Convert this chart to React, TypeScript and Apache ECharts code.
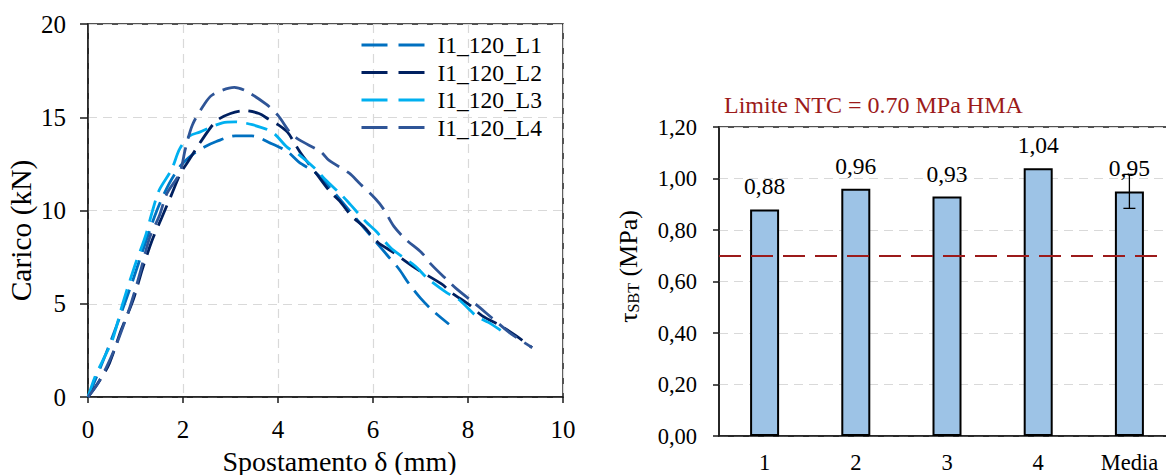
import React, { useEffect, useRef } from "react";
import * as echarts from "echarts";

// Load–displacement curves (displacement in mm, load in kN)
const disp1 = [0, 0.2, 0.45, 0.7, 0.95, 1.2, 1.45, 1.7, 1.95, 2.2, 2.45, 2.7, 3.1, 3.45, 3.85, 4.2, 4.44, 4.8, 5.1, 5.5, 5.8, 6.1, 6.3, 6.55, 6.75, 7.0, 7.25, 7.6];
const load1 = [0, 1.2, 2.8, 4.5, 6.3, 8.2, 10.0, 11.4, 12.4, 13.0, 13.4, 13.7, 14.0, 14.0, 13.6, 13.15, 12.6, 12.0, 11.2, 10.0, 9.1, 8.2, 7.6, 6.85, 6.1, 5.3, 4.65, 3.9];

const disp2 = [0, 0.25, 0.45, 0.7, 0.95, 1.15, 1.35, 1.55, 1.75, 1.95, 2.1, 2.35, 2.7, 3.0, 3.3, 3.6, 3.8, 4.0, 4.2, 4.35, 4.5, 4.8, 5.1, 5.3, 5.55, 5.8, 6.1, 6.4, 6.9, 7.45, 7.65, 8.05, 8.3, 8.7, 9.0, 9.35];
const load2 = [0, 0.9, 1.8, 3.6, 5.2, 6.9, 8.4, 9.6, 10.8, 12.0, 12.6, 13.6, 14.8, 15.2, 15.35, 15.2, 14.9, 14.6, 14.2, 13.6, 13.0, 12.0, 11.0, 10.5, 9.7, 9.15, 8.3, 7.8, 6.9, 6.05, 5.6, 4.9, 4.35, 3.8, 3.3, 2.65];

const disp3 = [0, 0.15, 0.3, 0.52, 0.73, 0.98, 1.2, 1.36, 1.5, 1.76, 1.93, 2.14, 2.35, 2.83, 3.1, 3.46, 3.88, 4.19, 4.44, 4.8, 5.0, 5.33, 5.53, 5.85, 6.06, 6.37, 6.6, 6.9, 7.13, 7.55, 7.8, 8.18, 8.43, 8.85];
const load3 = [0, 1.1, 1.9, 3.1, 5.0, 7.0, 8.55, 10.0, 11.1, 12.2, 13.3, 14.0, 14.2, 14.7, 14.75, 14.6, 14.2, 13.4, 13.0, 12.2, 11.65, 10.85, 10.3, 9.4, 8.9, 8.0, 7.55, 7.0, 6.4, 5.6, 5.24, 4.33, 4.0, 3.3];

const disp4 = [0, 0.2, 0.4, 0.6, 0.88, 1.09, 1.3, 1.5, 1.66, 1.93, 2.05, 2.2, 2.45, 2.62, 3.08, 3.33, 3.75, 4.0, 4.25, 4.44, 4.9, 5.07, 5.5, 5.7, 6.06, 6.23, 6.44, 6.69, 7.02, 7.23, 7.55, 7.76, 8.15, 8.5, 8.9, 9.35];
const load4 = [0, 0.7, 1.66, 2.83, 4.8, 6.6, 8.56, 9.7, 10.9, 12.0, 13.3, 14.6, 15.7, 16.2, 16.6, 16.4, 15.7, 15.1, 14.2, 13.8, 13.15, 12.7, 12.0, 11.5, 10.6, 10.05, 9.15, 8.45, 7.75, 7.1, 6.3, 5.8, 5.0, 4.25, 3.4, 2.65];

const curveNames = ["I1_120_L1", "I1_120_L2", "I1_120_L3", "I1_120_L4"];
const curveColors = ["#0070C0", "#002060", "#00B0F0", "#2F5597"];

// Shear strength per specimen (MPa)
const specimens = ["1", "2", "3", "4", "Media"];
const tauValues = [0.88, 0.96, 0.93, 1.04, 0.95];
const meanStd = 0.066;
const ntcLimit = 0.7;

const FONT = "'Liberation Serif', 'Times New Roman', serif";
const INK = "#000";
const GRID_LINE = { show: true, lineStyle: { color: "#D9D9D9", type: [9, 6] as any, width: 1.2 } };
const AXIS_LINE = { show: true, lineStyle: { color: "#1a1a1a", width: 1.5 } };
const txt = (size: number) => ({ fontSize: size, fontFamily: FONT, color: INK, fontWeight: "normal" as const });

const comma = (v: number) => v.toFixed(2).replace(".", ",");
const zip = (xs: number[], ys: number[]) => xs.map((x, i) => [x, ys[i]]);

export default function App() {
  const ref = useRef<HTMLDivElement>(null);

  useEffect(() => {
    if (!ref.current) return;
    const chart = echarts.init(ref.current, undefined, { renderer: "svg" });

    const curves = [zip(disp1, load1), zip(disp2, load2), zip(disp3, load3), zip(disp4, load4)];

    chart.setOption({
      animation: false,
      textStyle: txt(22),
      title: {
        text: `Limite NTC = ${ntcLimit.toFixed(2)} MPa HMA`,
        left: 724,
        top: 93,
        padding: 0,
        textStyle: { ...txt(24), color: "#9C1A1A" },
      },
      legend: {
        orient: "vertical",
        left: 360,
        top: 33,
        padding: 0,
        itemWidth: 63,
        itemHeight: 4,
        itemGap: 3.5,
        data: curveNames,
        itemStyle: { opacity: 0 },
        lineStyle: { type: [26, 11] as any, width: 3 },
        textStyle: { ...txt(23.5), lineHeight: 24, padding: [0, 0, 0, 8] },
      },
      grid: [
        {
          left: 88, top: 24, width: 475, height: 373,
          outerBoundsMode: "none",
          show: true, borderColor: "#1a1a1a", borderWidth: 1.5,
        },
        {
          left: 719, top: 127, width: 456, height: 309,
          outerBoundsMode: "none",
          show: true, borderColor: "#1a1a1a", borderWidth: 1.5,
        },
      ],
      xAxis: [
        {
          type: "value",
          gridIndex: 0,
          min: 0,
          max: 10,
          interval: 2,
          axisLine: AXIS_LINE,
          axisTick: { show: true, length: 6, lineStyle: { color: "#1a1a1a", width: 1.5 } },
          axisLabel: { ...txt(25), margin: 20 },
          splitLine: GRID_LINE,
          name: "Spostamento δ (mm)",
          nameLocation: "middle",
          nameGap: 40,
          nameTextStyle: { ...txt(28), lineHeight: 29, padding: [0, 0, 0, 28] },
        },
        {
          type: "category",
          gridIndex: 1,
          data: specimens,
          axisLine: AXIS_LINE,
          axisTick: { show: false },
          axisLabel: { ...txt(22.5), margin: 15 },
          splitLine: { show: false },
        },
      ],
      yAxis: [
        {
          type: "value",
          gridIndex: 0,
          min: 0,
          max: 20,
          interval: 5,
          axisLine: AXIS_LINE,
          axisTick: { show: true, length: 8, lineStyle: { color: "#1a1a1a", width: 1.5 } },
          axisLabel: { ...txt(25), margin: 22 },
          splitLine: GRID_LINE,
          name: "Carico (kN)",
          nameLocation: "middle",
          nameGap: 52,
          nameTextStyle: { ...txt(29.5), padding: [0, 40, 0, 0] },
        },
        {
          type: "value",
          gridIndex: 1,
          min: 0,
          max: 1.2,
          interval: 0.2,
          axisLine: AXIS_LINE,
          axisTick: { show: true, length: 6, lineStyle: { color: "#1a1a1a", width: 1.5 } },
          axisLabel: { ...txt(22.5), margin: 22, formatter: comma },
          splitLine: GRID_LINE,
          name: "{t|τ}{s|SBT}{t| (MPa)}",
          nameLocation: "middle",
          nameGap: 75,
          nameTextStyle: {
            ...txt(26),
            padding: [0, 0, 0, 30],
            rich: {
              t: { ...txt(26), lineHeight: 32 },
              s: { ...txt(16), lineHeight: 32, padding: [11, 0, 0, 0] },
            },
          },
        },
      ],
      series: [
        ...curves.map((data, i) => ({
          type: "line",
          name: curveNames[i],
          xAxisIndex: 0,
          yAxisIndex: 0,
          data,
          symbol: "none",
          smooth: 0.3,
          color: curveColors[i],
          lineStyle: { color: curveColors[i], width: 2.8, type: [22, 9], cap: "butt" },
        })),
        {
          type: "bar",
          name: "tau",
          xAxisIndex: 1,
          yAxisIndex: 1,
          data: tauValues,
          barWidth: 29,
          itemStyle: { color: "#9DC3E6", borderColor: "#000", borderWidth: 2 },
          label: {
            show: true,
            position: "top",
            distance: 11,
            formatter: (p: any) => comma(p.value),
            ...txt(23.5),
          },
          markLine: {
            silent: true,
            symbol: "none",
            label: { show: false },
            lineStyle: { color: "#9C1A1A", width: 2, type: [22, 10] },
            data: [{ yAxis: ntcLimit }],
          },
        },
        {
          type: "custom",
          name: "errore",
          xAxisIndex: 1,
          yAxisIndex: 1,
          z: 5,
          data: [[specimens.length - 1, tauValues[4] - meanStd, tauValues[4] + meanStd]],
          renderItem: (params: any, api: any) => {
            const lo = api.coord([api.value(0), api.value(1)]);
            const hi = api.coord([api.value(0), api.value(2)]);
            const half = 6;
            const style = { stroke: "#000", lineWidth: 1.3 };
            return {
              type: "group",
              children: [
                { type: "line", shape: { x1: lo[0], y1: lo[1], x2: hi[0], y2: hi[1] }, style },
                { type: "line", shape: { x1: lo[0] - half, y1: lo[1], x2: lo[0] + half, y2: lo[1] }, style },
                { type: "line", shape: { x1: hi[0] - half, y1: hi[1], x2: hi[0] + half, y2: hi[1] }, style },
              ],
            };
          },
        },
      ],
    });

    return () => chart.dispose();
  }, []);

  return (
    <div
      ref={ref}
      style={{ position: "fixed", left: 0, top: 0, width: 1166, height: 475, background: "#fff" }}
    />
  );
}
